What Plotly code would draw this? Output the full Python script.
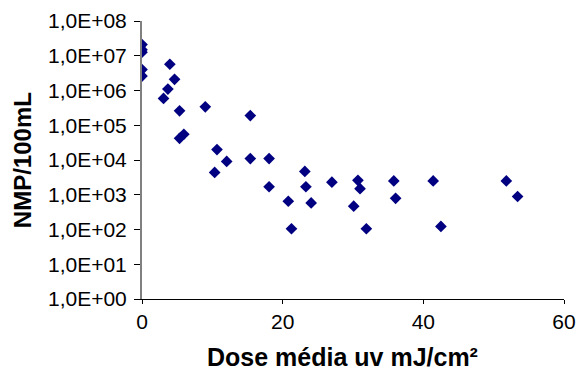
import plotly.graph_objects as go

# Data
dose = [0, 0, 0, 0, 0,
        3.96, 4.63, 3.68, 3.06, 5.34, 9.0, 15.4, 5.34, 5.95,
        10.66, 12.04, 10.33, 15.4, 18.07, 23.15, 18.07, 23.3,
        27.0, 30.7, 31.0, 20.8, 24.05, 30.1, 21.25, 31.9,
        35.8, 36.06, 41.4, 42.5, 51.8, 53.4]
nmp = [2.1e7, 1.5e7, 1.26e7, 4.0e6, 2.6e6,
       5.7e6, 2.1e6, 1.1e6, 5.9e5, 2.6e5, 3.4e5, 1.9e5, 4.2e4, 5.5e4,
       2.0e4, 9.1e3, 4.4e3, 1.1e4, 1.1e4, 4.7e3, 1.7e3, 1.7e3,
       2.3e3, 2.6e3, 1.5e3, 650, 580, 470, 105, 105,
       2.5e3, 790, 2.5e3, 123, 2.5e3, 890]

y_tickvals = [1e0, 1e1, 1e2, 1e3, 1e4, 1e5, 1e6, 1e7, 1e8]
y_ticktext = ["1,0E+00", "1,0E+01", "1,0E+02", "1,0E+03", "1,0E+04",
              "1,0E+05", "1,0E+06", "1,0E+07", "1,0E+08"]
x_tickvals = [0, 20, 40, 60]

fig = go.Figure()
fig.add_trace(go.Scatter(
    x=dose, y=nmp, mode="markers",
    marker=dict(symbol="diamond", size=9, color="#000080",
                line=dict(width=0)),
    showlegend=False,
))

font_family = "Liberation Sans, Arial, sans-serif"

fig.update_layout(
    width=577, height=372,
    margin=dict(l=142, r=13, t=21, b=73, autoexpand=False),
    paper_bgcolor="white", plot_bgcolor="white",
    font=dict(family=font_family, color="black"),
    xaxis=dict(
        range=[0, 60], tickvals=x_tickvals, automargin=False,
        showgrid=False, zeroline=False,
        showline=True, linecolor="black", linewidth=1,
        ticks="outside", ticklen=4, tickcolor="black",
        tickfont=dict(size=21, family=font_family),
    ),
    yaxis=dict(
        type="log", range=[0, 8], automargin=False,
        tickvals=y_tickvals, ticktext=y_ticktext,
        showgrid=False, zeroline=False,
        showline=True, linecolor="#808080", linewidth=2,
        ticks="outside", ticklen=6, tickcolor="black",
        ticklabelstandoff=3,
        tickfont=dict(size=21, family=font_family),
    ),
    annotations=[
        dict(text="<b>Dose média uv mJ/cm²</b>", xref="paper", yref="paper",
             x=0.476, y=-0.21, xanchor="center", yanchor="middle",
             showarrow=False, font=dict(size=25, family=font_family)),
        dict(text="<b>NMP/100mL</b>", xref="paper", yref="paper",
             x=-0.284, y=0.5, xanchor="center", yanchor="middle",
             textangle=-90, showarrow=False,
             font=dict(size=24, family=font_family)),
    ],
)

fig.write_html("out.html")
